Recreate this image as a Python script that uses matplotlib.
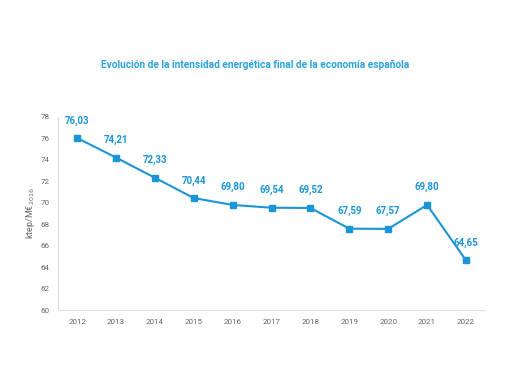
import matplotlib.pyplot as plt

# datos
years = [2012, 2013, 2014, 2015, 2016, 2017, 2018, 2019, 2020, 2021, 2022]
intensity = [76.03, 74.21, 72.33, 70.44, 69.80, 69.54, 69.52, 67.59, 67.57, 69.80, 64.65]
labels = ['76,03', '74,21', '72,33', '70,44', '69,80', '69,54', '69,52', '67,59', '67,57', '69,80', '64,65']

blue = '#1b95d6'
grey = '#666666'

plt.rcParams['font.family'] = ['Roboto', 'DejaVu Sans']

fig = plt.figure(figsize=(5.1, 3.82), dpi=100)
ax = fig.add_axes([0.114, 0.188, 0.837, 0.506])

ax.plot(years, intensity, color=blue, linewidth=1.5, marker='s', markersize=5)
for x, y, t in zip(years, intensity, labels):
    ax.annotate(t, (x, y), xytext=(0, 9), textcoords='offset points',
                ha='center', va='bottom', color=blue, fontsize=7, fontweight='bold')

ax.set_xlim(2011.51, 2022.49)
ax.set_ylim(60, 78)
ax.set_xticks(years)
ax.set_yticks(range(60, 79, 2))
ax.tick_params(length=0, labelsize=5.8, colors=grey, pad=6)
for s in ['top', 'right']:
    ax.spines[s].set_visible(False)
for s in ['left', 'bottom']:
    ax.spines[s].set_color('#dddddd')
    ax.spines[s].set_linewidth(0.8)

ax.set_ylabel(r'ktep/M€$_{2016}$', fontsize=6.5, color=grey, labelpad=3)

fig.text(0.5, 0.83, 'Evolución de la intensidad energética final de la economía española',
         ha='center', va='center', color='#2aa3dc', fontsize=7.3, fontweight='bold')

fig.savefig('out.png', dpi=100)
